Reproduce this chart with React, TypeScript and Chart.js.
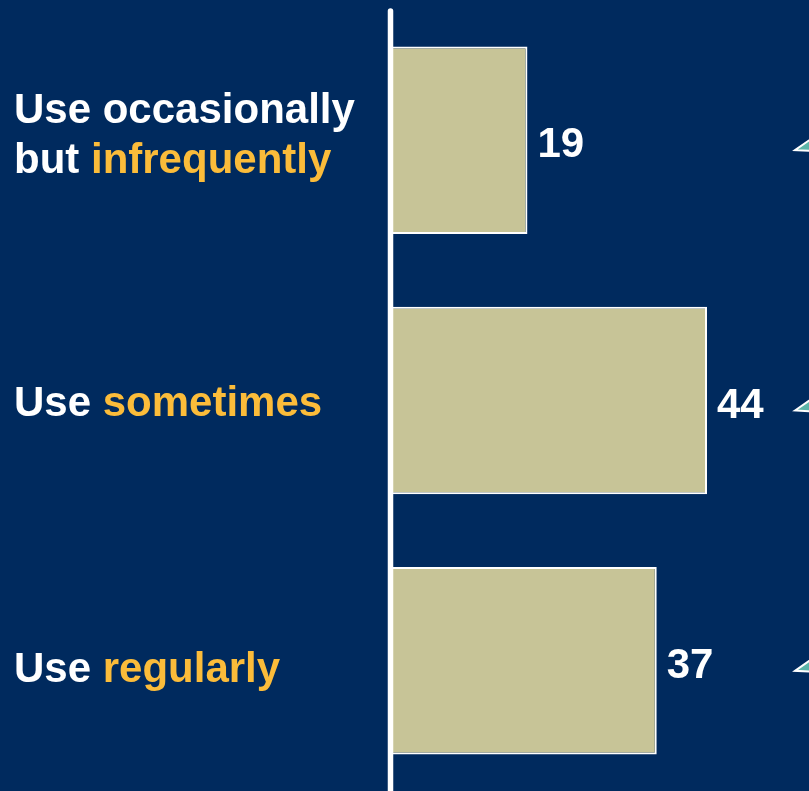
import React, { useEffect, useRef } from "react";
import { Chart, registerables } from "chart.js";

Chart.register(...registerables);

const categories = ["occasionally", "sometimes", "regularly"];
const values = [19, 44, 37];
const labelLines: { text: string; color: "w" | "y" }[][][] = [
  [
    [{ text: "Use occasionally", color: "w" }],
    [
      { text: "but ", color: "w" },
      { text: "infrequently", color: "y" },
    ],
  ],
  [[{ text: "Use ", color: "w" }, { text: "sometimes", color: "y" }]],
  [[{ text: "Use ", color: "w" }, { text: "regularly", color: "y" }]],
];
const labelBaselineOffsets = [[-17, 33], [15], [21]];

const BG = "#002A5E";
const BAR = "#C7C497";
const YELLOW = "#FBBC3A";
const TEAL = "#5CB5A9";
const FONT = "bold 42px 'Liberation Sans', Arial, sans-serif";

export default function App() {
  const ref = useRef<HTMLCanvasElement>(null);
  useEffect(() => {
    document.body.style.margin = "0";
    const overlay = {
      id: "overlay",
      beforeDraw(chart: any) {
        const { ctx } = chart;
        ctx.save();
        ctx.fillStyle = BG;
        ctx.fillRect(0, 0, chart.width, chart.height);
        ctx.restore();
      },
      afterDraw(chart: any) {
        const { ctx } = chart;
        const xs = chart.scales.x;
        const ys = chart.scales.y;
        ctx.save();
        // axis line
        ctx.strokeStyle = "#FFFFFF";
        ctx.lineWidth = 5.5;
        ctx.lineCap = "round";
        ctx.beginPath();
        ctx.moveTo(xs.left - 0.5, chart.chartArea.top + 1);
        ctx.lineTo(xs.left - 0.5, chart.height + 5);
        ctx.stroke();
        ctx.font = FONT;
        ctx.textBaseline = "alphabetic";
        categories.forEach((_, i) => {
          const cy = ys.getPixelForValue(i);
          // category labels
          labelLines[i].forEach((line, li) => {
            let x = 14;
            const by = cy + labelBaselineOffsets[i][li];
            line.forEach((seg) => {
              ctx.fillStyle = seg.color === "w" ? "#FFFFFF" : YELLOW;
              ctx.textAlign = "left";
              ctx.fillText(seg.text, x, by);
              x += ctx.measureText(seg.text).width;
            });
          });
          // value labels
          ctx.fillStyle = "#FFFFFF";
          ctx.textAlign = "left";
          ctx.fillText(String(values[i]), xs.getPixelForValue(values[i]) + 10, cy + 17);
          // teal pointers
          const tx = 795;
          const ty = cy + 10;
          ctx.beginPath();
          ctx.moveTo(tx, ty);
          ctx.lineTo(tx + 40, ty - 28);
          ctx.lineTo(tx + 40, ty + 2);
          ctx.closePath();
          ctx.fillStyle = TEAL;
          ctx.fill();
          ctx.strokeStyle = "#FFFFFF";
          ctx.lineWidth = 2;
          ctx.lineJoin = "miter";
          ctx.stroke();
        });
        ctx.restore();
      },
    };
    const chart = new Chart(ref.current!, {
      type: "bar",
      data: {
        labels: categories,
        datasets: [
          {
            data: values,
            backgroundColor: BAR,
            borderColor: "#FFFFFF",
            borderWidth: 2,
            borderSkipped: "start",
            barPercentage: 0.72,
            categoryPercentage: 1,
          },
        ],
      },
      options: {
        indexAxis: "y",
        animation: false,
        responsive: false,
        maintainAspectRatio: false,
        layout: { padding: { left: 391, top: 10, right: 0, bottom: 0 } },
        plugins: { legend: { display: false }, tooltip: { enabled: false } },
        scales: {
          x: { display: false, min: 0, max: 58.2 },
          y: { display: false },
        },
      },
      plugins: [overlay],
    });
    return () => chart.destroy();
  }, []);
  return (
    <div style={{ width: 809, height: 791, background: BG, overflow: "hidden" }}>
      <canvas ref={ref} width={809} height={791} style={{ display: "block" }} />
    </div>
  );
}
